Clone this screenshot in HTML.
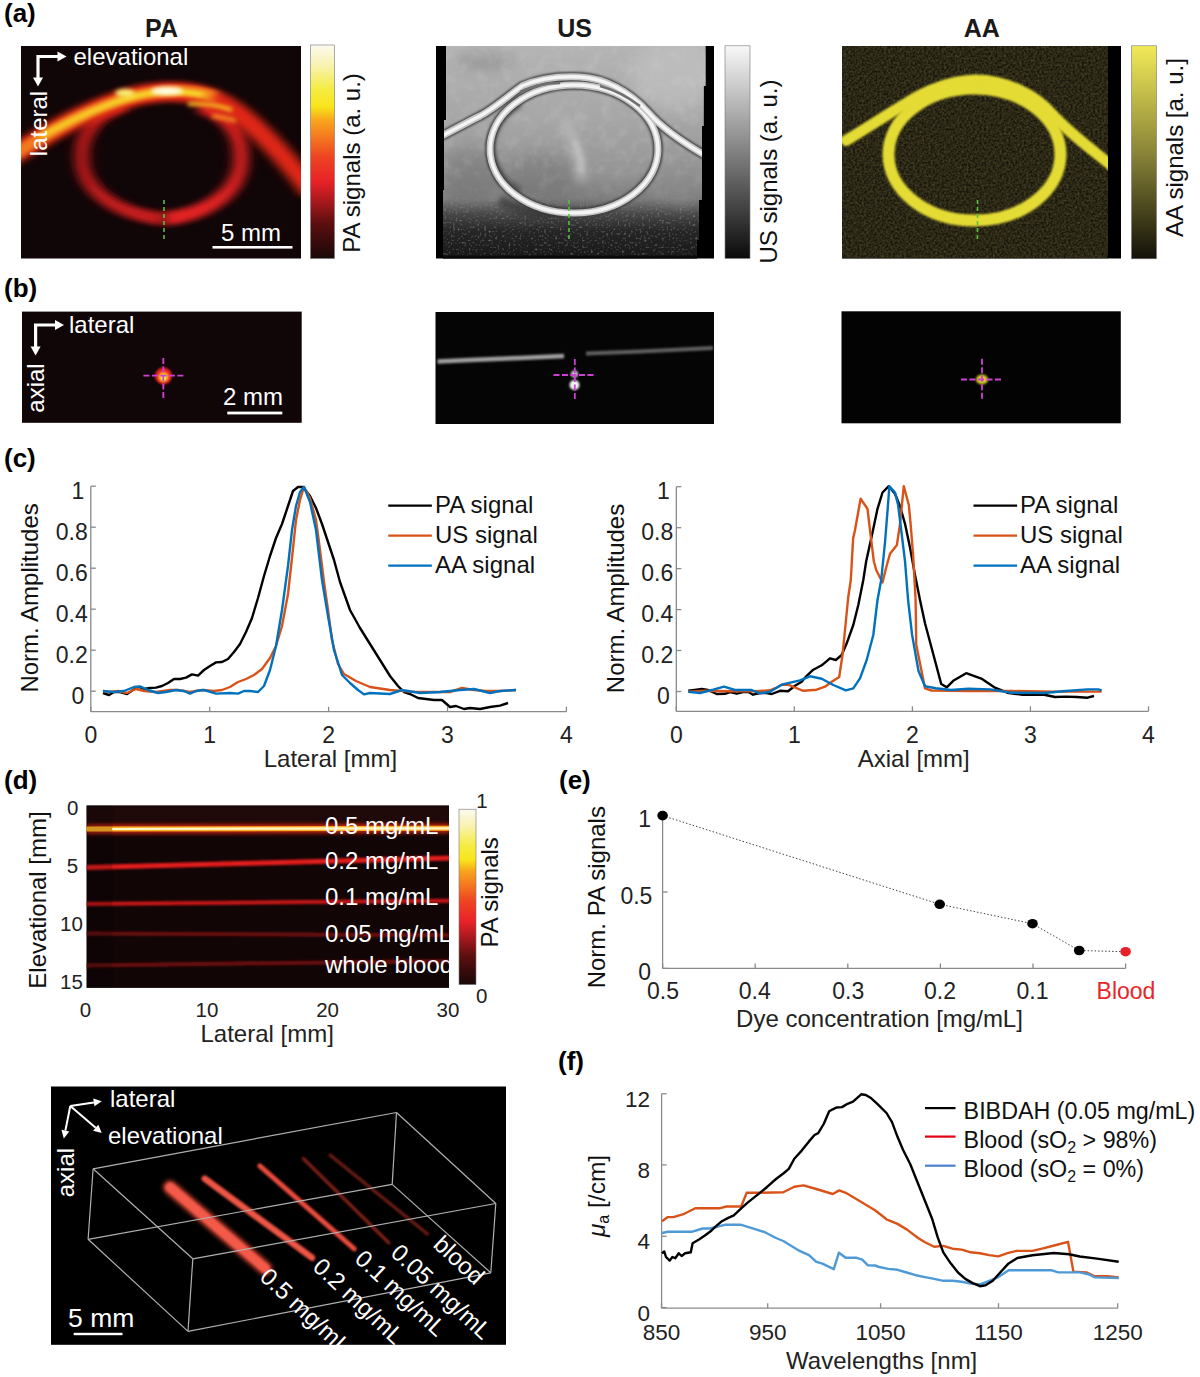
<!DOCTYPE html>
<html><head><meta charset="utf-8"><style>
html,body{margin:0;padding:0;background:#fff;overflow:hidden;}
svg{display:block;}
text{font-family:"Liberation Sans",sans-serif;}
</style></head><body>
<svg width="1200" height="1377" viewBox="0 0 1200 1377">

<defs>
 <filter id="b2" filterUnits="userSpaceOnUse" x="0" y="0" width="1200" height="1377"><feGaussianBlur stdDeviation="2"/></filter>
 <filter id="b3" filterUnits="userSpaceOnUse" x="0" y="0" width="1200" height="1377"><feGaussianBlur stdDeviation="3"/></filter>
 <filter id="b4" filterUnits="userSpaceOnUse" x="0" y="0" width="1200" height="1377"><feGaussianBlur stdDeviation="4"/></filter>
 <filter id="b1" filterUnits="userSpaceOnUse" x="0" y="0" width="1200" height="1377"><feGaussianBlur stdDeviation="1"/></filter>
 <filter id="b6" filterUnits="userSpaceOnUse" x="0" y="0" width="1200" height="1377"><feGaussianBlur stdDeviation="6"/></filter>
 <filter id="b8" filterUnits="userSpaceOnUse" x="0" y="0" width="1200" height="1377"><feGaussianBlur stdDeviation="9"/></filter>
 <filter id="ax" filterUnits="userSpaceOnUse" x="0" y="0" width="1200" height="1377"><feGaussianBlur stdDeviation="6 2.5"/></filter>
 <filter id="ax2" filterUnits="userSpaceOnUse" x="0" y="0" width="1200" height="1377"><feGaussianBlur stdDeviation="4 1.8"/></filter>
 <filter id="b06" filterUnits="userSpaceOnUse" x="0" y="0" width="1200" height="1377"><feGaussianBlur stdDeviation="0.6"/></filter>
 <linearGradient id="hot" x1="0" y1="1" x2="0" y2="0">
  <stop offset="0" stop-color="#1a0808"/>
  <stop offset="0.16" stop-color="#5a0e0e"/>
  <stop offset="0.28" stop-color="#b01a1e"/>
  <stop offset="0.36" stop-color="#e82228"/>
  <stop offset="0.475" stop-color="#ee4422"/>
  <stop offset="0.57" stop-color="#f47a20"/>
  <stop offset="0.647" stop-color="#f8a41c"/>
  <stop offset="0.71" stop-color="#f8e41a"/>
  <stop offset="0.79" stop-color="#f5ec40"/>
  <stop offset="0.905" stop-color="#f8f2b0"/>
  <stop offset="1" stop-color="#fcfaf0"/>
 </linearGradient>
 <linearGradient id="gray" x1="0" y1="1" x2="0" y2="0">
  <stop offset="0" stop-color="#0a0a0a"/>
  <stop offset="1" stop-color="#f8f8f8"/>
 </linearGradient>
 <linearGradient id="yel" x1="0" y1="1" x2="0" y2="0">
  <stop offset="0" stop-color="#121008"/>
  <stop offset="0.5" stop-color="#8a8538"/>
  <stop offset="1" stop-color="#f2ea58"/>
 </linearGradient>
 <linearGradient id="mtg" x1="0" y1="0" x2="0" y2="1">
  <stop offset="0" stop-color="#fff"/>
  <stop offset="0.7" stop-color="#fff"/>
  <stop offset="1" stop-color="#000"/>
 </linearGradient>
 <linearGradient id="spg" x1="0" y1="0" x2="0" y2="1">
  <stop offset="0" stop-color="#000"/>
  <stop offset="0.4" stop-color="#fff"/>
  <stop offset="1" stop-color="#fff"/>
 </linearGradient>
 <linearGradient id="usbg" x1="0" y1="0" x2="0" y2="1">
  <stop offset="0" stop-color="#b4b4b4"/>
  <stop offset="0.35" stop-color="#a6a6a6"/>
  <stop offset="0.6" stop-color="#949494"/>
  <stop offset="0.72" stop-color="#7c7c7c"/>
  <stop offset="0.79" stop-color="#484848"/>
  <stop offset="0.87" stop-color="#262626"/>
  <stop offset="1" stop-color="#181818"/>
 </linearGradient>
 <filter id="noise2" x="0" y="0" width="100%" height="100%">
  <feTurbulence type="fractalNoise" baseFrequency="0.06" numOctaves="3" seed="7"/>
  <feColorMatrix type="saturate" values="0"/>
 </filter>
 <filter id="speck" x="0" y="0" width="100%" height="100%">
  <feTurbulence type="fractalNoise" baseFrequency="0.45" numOctaves="1" seed="11"/>
  <feColorMatrix type="matrix" values="0 0 0 0 0.42  0 0 0 0 0.42  0 0 0 0 0.42  1.8 0 0 0 -1.0"/>
 </filter>
 <filter id="usmottle" x="0" y="0" width="100%" height="100%">
  <feTurbulence type="fractalNoise" baseFrequency="0.08" numOctaves="3" seed="5"/>
  <feColorMatrix type="matrix" values="0 0 0 0 0.7  0 0 0 0 0.7  0 0 0 0 0.7  0.45 0 0 0 -0.2"/>
 </filter>
 <filter id="aanoise" x="0" y="0" width="100%" height="100%">
  <feTurbulence type="fractalNoise" baseFrequency="0.45" numOctaves="2" seed="9"/>
  <feColorMatrix type="matrix" values="0 0 0 0 0.24  0 0 0 0 0.22  0 0 0 0 0.07  0.7 0 0 0 -0.17"/>
 </filter>
 <filter id="noise" x="0" y="0" width="100%" height="100%">
  <feTurbulence type="fractalNoise" baseFrequency="0.9" numOctaves="2" seed="3" result="n"/>
  <feColorMatrix type="saturate" values="0"/>
 </filter>
</defs>

<text x="4" y="22" font-size="26" text-anchor="start" font-weight="bold" fill="#000" >(a)</text>
<text x="4" y="296.5" font-size="26" text-anchor="start" font-weight="bold" fill="#000" >(b)</text>
<text x="4" y="467" font-size="26" text-anchor="start" font-weight="bold" fill="#000" >(c)</text>
<text x="4" y="789" font-size="26" text-anchor="start" font-weight="bold" fill="#000" >(d)</text>
<text x="559" y="789" font-size="26" text-anchor="start" font-weight="bold" fill="#000" >(e)</text>
<text x="558" y="1070" font-size="26" text-anchor="start" font-weight="bold" fill="#000" >(f)</text>
<text x="161.5" y="37" font-size="25" text-anchor="middle" font-weight="bold" fill="#1a1a1a" >PA</text>
<text x="574.5" y="37" font-size="25" text-anchor="middle" font-weight="bold" fill="#1a1a1a" >US</text>
<text x="981.7" y="37" font-size="25" text-anchor="middle" font-weight="bold" fill="#1a1a1a" >AA</text>
<rect x="21" y="46" width="280" height="212.5" fill="#100507"/>
<clipPath id="cpa"><rect x="21" y="46" width="280" height="212.5"/></clipPath>
<g clip-path="url(#cpa)">
<path d="M 164,219 C 118,214 84,192 82,160 C 80,132 98,113 125,105" fill="none" stroke="#c41a1a" stroke-width="13" filter="url(#ax)"/>
<path d="M 164,219 C 208,214 240,192 241,160 C 242,132 226,114 200,106" fill="none" stroke="#e22020" stroke-width="14" filter="url(#ax)"/>
<path d="M 5,160 C 40,138 90,106 140,95 C 175,88 205,92 230,108 C 255,124 280,150 312,192" fill="none" stroke="#e02818" stroke-width="20" filter="url(#ax)"/>
<path d="M 5,160 C 45,135 90,106 140,95 C 170,89 195,90 215,97" fill="none" stroke="#f27a1e" stroke-width="12" filter="url(#ax2)"/>
<path d="M 40,137 C 75,118 110,101 145,94 C 165,90 185,91 205,95" fill="none" stroke="#f8d028" stroke-width="6" filter="url(#ax2)"/>
<ellipse cx="167" cy="91" rx="16" ry="4" fill="#fffbe8" filter="url(#b2)"/>
<ellipse cx="125" cy="93" rx="10" ry="4" fill="#f8f070" filter="url(#b2)"/>
<path d="M 188,104 C 205,103 218,105 232,110" fill="none" stroke="#f8c020" stroke-width="4" filter="url(#b2)"/>
<path d="M 212,116 C 220,117 228,118 236,121" fill="none" stroke="#f89020" stroke-width="4" filter="url(#b2)"/>
</g>
<line x1="164" y1="200" x2="164" y2="241" stroke="#58c040" stroke-width="1.6" stroke-dasharray="4,3"/>
<path d="M 58.5,56.5 L 38,56.5 L 38,78.5" fill="none" stroke="#fff" stroke-width="3.2"/>
<path d="M 66.5,56.5 L 57.5,51.5 L 57.5,61.5 Z" fill="#fff"/>
<path d="M 38,86.5 L 33,77.5 L 43,77.5 Z" fill="#fff"/>
<text x="73.5" y="64.75" font-size="24" text-anchor="start" font-weight="normal" fill="#fff" >elevational</text>
<text transform="translate(46.5,123.5) rotate(-90)" font-size="24" text-anchor="middle" font-weight="normal" fill="#fff">lateral</text>
<text x="251" y="241" font-size="24" text-anchor="middle" font-weight="normal" fill="#fff" >5 mm</text>
<rect x="212.5" y="246" width="80" height="2.6" fill="#fff"/>
<rect x="310.5" y="45" width="24" height="213.5" fill="url(#hot)" stroke="#777" stroke-width="0.6"/>
<text transform="translate(359.5,163) rotate(-90)" font-size="24" text-anchor="middle" font-weight="normal" fill="#111">PA signals (a. u.)</text>
<rect x="436" y="46" width="278" height="212.5" fill="#000"/>
<clipPath id="cus"><path d="M 446,46 L 705.6,46 L 705.6,86 L 703.8,86 L 703.8,126 L 702,126 L 702,200 L 699,200 L 699,240 L 697,240 L 697,258.5 L 443,258.5 L 443,190 L 444,190 L 444,120 L 446,120 Z"/></clipPath>
<g clip-path="url(#cus)">
<rect x="436" y="46" width="278" height="212.5" fill="url(#usbg)"/>
<ellipse cx="675" cy="75" rx="45" ry="35" fill="#c4c4c4" opacity="0.6" filter="url(#b8)"/>
<ellipse cx="485" cy="62" rx="30" ry="10" fill="#8a8a8a" opacity="0.5" filter="url(#b6)"/>
<ellipse cx="470" cy="175" rx="30" ry="25" fill="#6e6e6e" opacity="0.5" filter="url(#b8)"/>
<ellipse cx="540" cy="178" rx="38" ry="22" fill="#6a6a6a" opacity="0.45" filter="url(#b8)"/>
<ellipse cx="680" cy="185" rx="25" ry="20" fill="#8a8a8a" opacity="0.5" filter="url(#b8)"/>
<path d="M 564,118 C 572,135 580,155 582,182" fill="none" stroke="#c4c4c4" stroke-width="12" opacity="0.5" filter="url(#b4)"/>
<path d="M 574,140 C 578,150 582,160 582,172" fill="none" stroke="#d0d0d0" stroke-width="6" opacity="0.5" filter="url(#b2)"/>
<mask id="mtm"><rect x="436" y="46" width="278" height="170" fill="url(#mtg)"/></mask>
<rect x="436" y="46" width="278" height="170" fill="#000" filter="url(#usmottle)" mask="url(#mtm)"/>
<mask id="spm"><rect x="436" y="185" width="278" height="75" fill="url(#spg)"/></mask>
<rect x="436" y="185" width="278" height="75" fill="#000" filter="url(#speck)" mask="url(#spm)"/>
<rect x="436" y="255.5" width="278" height="4" fill="#0a0a0a"/>
<path d="M 520,104 A 76,56 0 0 0 520,191" fill="none" stroke="#4a4a4a" stroke-width="7" opacity="0.7" filter="url(#b2)"/>
<path d="M 640,185 A 76,56 0 0 0 648,120" fill="none" stroke="#5a5a5a" stroke-width="5" opacity="0.5" filter="url(#b2)"/>
<path d="M 500,200 A 84,64 0 0 0 560,213" fill="none" stroke="#303030" stroke-width="10" opacity="0.6" filter="url(#b2)"/>
<ellipse cx="574" cy="149" rx="84" ry="64" fill="none" stroke="#3a3a3a" stroke-width="9.5" filter="url(#b1)"/>
<path d="M 438,138 C 455,129 468,122 480,116 C 495,108 508,96 522,86 C 540,78 560,76 580,77 C 605,78 630,92 648,112 C 660,126 680,141 708,157" fill="none" stroke="#3a3a3a" stroke-width="9.5" filter="url(#b1)"/>
<ellipse cx="574" cy="149" rx="84" ry="64" fill="none" stroke="#c4c4c4" stroke-width="7" filter="url(#b06)"/>
<ellipse cx="574" cy="149" rx="84" ry="64" fill="none" stroke="#f4f4f4" stroke-width="3.5" filter="url(#b06)"/>
<path d="M 438,138 C 455,129 468,122 480,116 C 495,108 508,96 522,86 C 540,78 560,76 580,77 C 605,78 630,92 648,112 C 660,126 680,141 708,157" fill="none" stroke="#c4c4c4" stroke-width="7" filter="url(#b06)"/>
<path d="M 438,138 C 455,129 468,122 480,116 C 495,108 508,96 522,86 C 540,78 560,76 580,77 C 605,78 630,92 648,112 C 660,126 680,141 708,157" fill="none" stroke="#f4f4f4" stroke-width="3.5" filter="url(#b06)"/>
<path d="M 520,92 C 535,85 550,83 560,83" fill="none" stroke="#707070" stroke-width="2.5" filter="url(#b06)"/>
<path d="M 600,86 C 615,90 628,97 640,106" fill="none" stroke="#707070" stroke-width="2.5" filter="url(#b06)"/>
</g>
<line x1="569" y1="200" x2="569" y2="241" stroke="#58c040" stroke-width="1.6" stroke-dasharray="4,3"/>
<rect x="725" y="45.8" width="25" height="212.6" fill="url(#gray)" stroke="#777" stroke-width="0.6"/>
<text transform="translate(776.5,171.5) rotate(-90)" font-size="24" text-anchor="middle" font-weight="normal" fill="#111">US signals (a. u.)</text>
<rect x="842" y="46" width="279" height="212.5" fill="#000"/>
<clipPath id="caa"><rect x="842" y="46" width="266" height="212.5"/></clipPath>
<g clip-path="url(#caa)">
<rect x="842" y="46" width="266" height="212.5" fill="#17140a"/>
<rect x="842" y="46" width="266" height="212.5" fill="#000" filter="url(#aanoise)"/>
<ellipse cx="974.5" cy="154.5" rx="86" ry="66" fill="none" stroke="#e4dc34" stroke-width="12" filter="url(#b1)"/>
<path d="M 846,140.5 C 862,131 885,116 905,104 C 925,91 950,81 975,80 C 1005,80 1035,94 1052,114 C 1068,132 1090,148 1112,166" fill="none" stroke="#e4dc34" stroke-width="11" stroke-linecap="round" filter="url(#b1)"/>
</g>
<line x1="977.5" y1="200" x2="977.5" y2="241" stroke="#58c040" stroke-width="1.6" stroke-dasharray="4,3"/>
<rect x="1131.5" y="45.8" width="25" height="213" fill="url(#yel)" stroke="#777" stroke-width="0.6"/>
<text transform="translate(1183,147.5) rotate(-90)" font-size="24" text-anchor="middle" font-weight="normal" fill="#111">AA signals [a. u.]</text>
<rect x="22" y="311.6" width="279.7" height="111.2" fill="#100507"/>
<circle cx="163.5" cy="376" r="8.5" fill="#e82020" filter="url(#b1)"/>
<circle cx="163.5" cy="377" r="5" fill="#f8c020" filter="url(#b1)"/>
<circle cx="163.5" cy="378" r="2.5" fill="#f8f040" filter="url(#b06)"/>
<line x1="143.4" y1="375.7" x2="183.4" y2="375.7" stroke="#d040d8" stroke-width="1.8" stroke-dasharray="6,2.5"/>
<line x1="163.3" y1="358" x2="163.3" y2="398" stroke="#d040d8" stroke-width="1.8" stroke-dasharray="6,2.5"/>
<path d="M 56,325 L 35.6,325 L 35.6,347.5" fill="none" stroke="#fff" stroke-width="3.2"/>
<path d="M 64,325 L 55,320 L 55,330 Z" fill="#fff"/>
<path d="M 35.6,355.5 L 30.6,346.5 L 40.6,346.5 Z" fill="#fff"/>
<text x="69" y="333" font-size="24" text-anchor="start" font-weight="normal" fill="#fff" >lateral</text>
<text transform="translate(44.4,388) rotate(-90)" font-size="24" text-anchor="middle" font-weight="normal" fill="#fff">axial</text>
<text x="253" y="404.6" font-size="24" text-anchor="middle" font-weight="normal" fill="#fff" >2 mm</text>
<rect x="227.3" y="411.6" width="55" height="2.8" fill="#fff"/>
<rect x="435.5" y="312" width="278.5" height="112" fill="#050505"/>
<path d="M 437.5,361.5 L 470,360 L 520,358 L 564,356" fill="none" stroke="#a0a0a0" stroke-width="4.5" stroke-linecap="butt" filter="url(#b1)"/>
<path d="M 586,353.5 L 640,351.5 L 713,348" fill="none" stroke="#606060" stroke-width="4" stroke-linecap="butt" filter="url(#b1)"/>
<ellipse cx="574.5" cy="385" rx="5" ry="5" fill="#f4f4f4" filter="url(#b1)"/>
<ellipse cx="574.5" cy="374" rx="3.5" ry="3.5" fill="#d0d0d0" filter="url(#b1)"/>
<line x1="553.5" y1="375" x2="595" y2="375" stroke="#d040d8" stroke-width="1.8" stroke-dasharray="6,2.5"/>
<line x1="574.8" y1="359" x2="574.8" y2="399.5" stroke="#d040d8" stroke-width="1.8" stroke-dasharray="6,2.5"/>
<rect x="841.5" y="311.3" width="279.3" height="112" fill="#030303"/>
<ellipse cx="982" cy="379.5" rx="6" ry="5" fill="#d8c820" filter="url(#b1)"/>
<line x1="961" y1="379.5" x2="1002" y2="379.5" stroke="#d040d8" stroke-width="1.8" stroke-dasharray="6,2.5"/>
<line x1="982" y1="358.75" x2="982" y2="400" stroke="#d040d8" stroke-width="1.8" stroke-dasharray="6,2.5"/>
<line x1="90.8" y1="486.2" x2="90.8" y2="711.7" stroke="#8a8a8a" stroke-width="1.3"/>
<line x1="90.8" y1="711.7" x2="566.4" y2="711.7" stroke="#8a8a8a" stroke-width="1.3"/>
<line x1="90.8" y1="691.2" x2="95.8" y2="691.2" stroke="#8a8a8a" stroke-width="1.3"/>
<text x="84.3" y="703.5" font-size="23" text-anchor="end" font-weight="normal" fill="#222" >0</text>
<line x1="90.8" y1="650.2" x2="95.8" y2="650.2" stroke="#8a8a8a" stroke-width="1.3"/>
<text x="87.8" y="662.5" font-size="23" text-anchor="end" font-weight="normal" fill="#222" >0.2</text>
<line x1="90.8" y1="609.2" x2="95.8" y2="609.2" stroke="#8a8a8a" stroke-width="1.3"/>
<text x="87.8" y="621.5" font-size="23" text-anchor="end" font-weight="normal" fill="#222" >0.4</text>
<line x1="90.8" y1="568.2" x2="95.8" y2="568.2" stroke="#8a8a8a" stroke-width="1.3"/>
<text x="87.8" y="580.5" font-size="23" text-anchor="end" font-weight="normal" fill="#222" >0.6</text>
<line x1="90.8" y1="527.2" x2="95.8" y2="527.2" stroke="#8a8a8a" stroke-width="1.3"/>
<text x="87.8" y="539.5" font-size="23" text-anchor="end" font-weight="normal" fill="#222" >0.8</text>
<line x1="90.8" y1="486.2" x2="95.8" y2="486.2" stroke="#8a8a8a" stroke-width="1.3"/>
<text x="84.3" y="498.5" font-size="23" text-anchor="end" font-weight="normal" fill="#222" >1</text>
<line x1="90.8" y1="711.7" x2="90.8" y2="706.7" stroke="#8a8a8a" stroke-width="1.3"/>
<text x="90.8" y="743.0" font-size="23" text-anchor="middle" font-weight="normal" fill="#222" >0</text>
<line x1="209.7" y1="711.7" x2="209.7" y2="706.7" stroke="#8a8a8a" stroke-width="1.3"/>
<text x="209.7" y="743.0" font-size="23" text-anchor="middle" font-weight="normal" fill="#222" >1</text>
<line x1="328.6" y1="711.7" x2="328.6" y2="706.7" stroke="#8a8a8a" stroke-width="1.3"/>
<text x="328.6" y="743.0" font-size="23" text-anchor="middle" font-weight="normal" fill="#222" >2</text>
<line x1="447.5" y1="711.7" x2="447.5" y2="706.7" stroke="#8a8a8a" stroke-width="1.3"/>
<text x="447.5" y="743.0" font-size="23" text-anchor="middle" font-weight="normal" fill="#222" >3</text>
<line x1="566.4" y1="711.7" x2="566.4" y2="706.7" stroke="#8a8a8a" stroke-width="1.3"/>
<text x="566.4" y="743.0" font-size="23" text-anchor="middle" font-weight="normal" fill="#222" >4</text>
<text transform="translate(38,597.9) rotate(-90)" font-size="24" text-anchor="middle" font-weight="normal" fill="#111">Norm. Amplitudes</text>
<text x="330.4" y="766.6" font-size="24" text-anchor="middle" font-weight="normal" fill="#222" >Lateral [mm]</text>
<line x1="676.3" y1="486.7" x2="676.3" y2="711.3" stroke="#8a8a8a" stroke-width="1.3"/>
<line x1="676.3" y1="711.3" x2="1148.5" y2="711.3" stroke="#8a8a8a" stroke-width="1.3"/>
<line x1="676.3" y1="691.5" x2="681.3" y2="691.5" stroke="#8a8a8a" stroke-width="1.3"/>
<text x="669.8" y="703.8" font-size="23" text-anchor="end" font-weight="normal" fill="#222" >0</text>
<line x1="676.3" y1="650.5" x2="681.3" y2="650.5" stroke="#8a8a8a" stroke-width="1.3"/>
<text x="673.3" y="662.8" font-size="23" text-anchor="end" font-weight="normal" fill="#222" >0.2</text>
<line x1="676.3" y1="609.6" x2="681.3" y2="609.6" stroke="#8a8a8a" stroke-width="1.3"/>
<text x="673.3" y="621.9" font-size="23" text-anchor="end" font-weight="normal" fill="#222" >0.4</text>
<line x1="676.3" y1="568.6" x2="681.3" y2="568.6" stroke="#8a8a8a" stroke-width="1.3"/>
<text x="673.3" y="580.9" font-size="23" text-anchor="end" font-weight="normal" fill="#222" >0.6</text>
<line x1="676.3" y1="527.7" x2="681.3" y2="527.7" stroke="#8a8a8a" stroke-width="1.3"/>
<text x="673.3" y="540.0" font-size="23" text-anchor="end" font-weight="normal" fill="#222" >0.8</text>
<line x1="676.3" y1="486.7" x2="681.3" y2="486.7" stroke="#8a8a8a" stroke-width="1.3"/>
<text x="669.8" y="499.0" font-size="23" text-anchor="end" font-weight="normal" fill="#222" >1</text>
<line x1="676.3" y1="711.3" x2="676.3" y2="706.3" stroke="#8a8a8a" stroke-width="1.3"/>
<text x="676.3" y="742.6" font-size="23" text-anchor="middle" font-weight="normal" fill="#222" >0</text>
<line x1="794.3" y1="711.3" x2="794.3" y2="706.3" stroke="#8a8a8a" stroke-width="1.3"/>
<text x="794.3" y="742.6" font-size="23" text-anchor="middle" font-weight="normal" fill="#222" >1</text>
<line x1="912.4" y1="711.3" x2="912.4" y2="706.3" stroke="#8a8a8a" stroke-width="1.3"/>
<text x="912.4" y="742.6" font-size="23" text-anchor="middle" font-weight="normal" fill="#222" >2</text>
<line x1="1030.4" y1="711.3" x2="1030.4" y2="706.3" stroke="#8a8a8a" stroke-width="1.3"/>
<text x="1030.4" y="742.6" font-size="23" text-anchor="middle" font-weight="normal" fill="#222" >3</text>
<line x1="1148.5" y1="711.3" x2="1148.5" y2="706.3" stroke="#8a8a8a" stroke-width="1.3"/>
<text x="1148.5" y="742.6" font-size="23" text-anchor="middle" font-weight="normal" fill="#222" >4</text>
<text transform="translate(624,598.5) rotate(-90)" font-size="24" text-anchor="middle" font-weight="normal" fill="#111">Norm. Amplitudes</text>
<text x="913.7" y="766.6" font-size="24" text-anchor="middle" font-weight="normal" fill="#222" >Axial [mm]</text>
<polyline points="103.0,693.0 109.0,695.0 114.0,692.0 120.0,692.0 127.0,694.0 133.0,690.0 139.0,687.0 144.0,689.0 150.0,688.0 156.0,687.6 162.0,686.0 168.0,683.0 174.0,679.0 180.0,679.0 186.0,677.6 192.0,674.4 198.0,675.6 204.0,670.0 210.0,666.0 216.0,662.4 222.0,662.0 228.0,659.0 234.0,652.0 240.0,644.0 246.0,632.0 252.0,618.0 258.0,598.0 264.0,576.0 270.0,556.0 276.0,538.0 282.0,524.0 288.0,506.0 293.0,491.0 298.0,487.0 303.0,487.0 310.0,496.0 316.0,508.0 322.0,524.0 328.0,542.0 334.0,560.0 340.0,582.0 350.0,610.0 360.0,628.0 370.0,644.0 380.0,660.0 390.0,676.0 398.0,686.0 404.0,692.0 410.0,694.0 418.0,698.0 426.0,699.0 434.0,700.0 442.0,700.0 450.0,707.0 456.0,706.0 464.0,709.0 470.0,708.0 480.0,709.0 490.0,707.0 500.0,705.6 508.0,703.0" fill="none" stroke="#000" stroke-width="2.4" stroke-linejoin="round"/>
<polyline points="103.0,691.0 110.0,692.0 118.0,691.0 127.0,693.0 136.0,689.0 144.0,691.0 156.0,692.0 170.0,690.0 178.0,690.0 190.0,692.0 202.0,690.0 214.0,691.0 222.0,690.0 230.0,687.0 238.0,682.0 246.0,679.0 254.0,675.0 262.0,669.0 270.0,658.0 276.0,646.0 282.0,626.0 288.0,594.0 292.0,558.0 296.0,520.0 300.0,500.0 304.0,487.0 310.0,498.0 316.0,520.0 320.0,550.0 324.0,582.0 328.0,610.0 332.0,640.0 338.0,664.0 344.0,674.0 356.0,681.0 370.0,687.0 390.0,690.0 410.0,691.6 430.0,692.0 450.0,692.0 462.0,688.0 474.0,690.0 486.0,691.0 500.0,691.0 516.0,690.0" fill="none" stroke="#d95319" stroke-width="2.4" stroke-linejoin="round"/>
<polyline points="103.0,691.0 114.0,692.0 124.0,691.0 134.0,687.0 140.0,686.4 148.0,690.0 158.0,693.0 166.0,692.0 176.0,690.0 184.0,691.0 190.0,693.6 196.0,691.0 204.0,690.0 216.0,693.6 230.0,693.0 238.0,693.6 244.0,691.0 250.0,691.0 258.0,692.0 264.0,686.0 270.0,670.0 276.0,646.0 282.0,610.0 288.0,566.0 292.0,530.0 296.0,506.0 300.0,492.0 304.0,487.0 310.0,502.0 316.0,530.0 322.0,580.0 328.0,616.0 334.0,650.0 342.0,675.0 350.0,683.0 358.0,690.0 364.0,694.4 370.0,693.0 390.0,694.0 402.0,690.0 420.0,693.0 440.0,692.0 460.0,690.0 474.0,689.0 490.0,693.0 500.0,691.0 516.0,690.0" fill="none" stroke="#0072bd" stroke-width="2.4" stroke-linejoin="round"/>
<polyline points="688.3,690.8 696.7,689.7 701.7,689.0 708.0,690.0 716.7,694.0 725.0,693.8 730.0,692.0 736.7,693.7 743.0,692.0 748.0,691.7 753.0,694.7 760.0,693.0 766.7,693.0 771.7,694.0 780.0,690.8 788.0,691.3 795.0,685.8 801.7,681.7 806.7,675.8 813.3,669.7 821.7,665.3 830.0,658.3 835.8,660.0 841.7,655.0 846.7,643.3 853.3,625.0 858.3,605.0 863.3,580.0 866.2,561.2 872.5,532.5 877.5,508.8 882.5,492.5 888.8,486.2 895.0,493.8 900.0,506.2 905.0,523.8 910.0,547.5 915.0,575.0 920.0,600.0 925.0,623.3 933.7,655.8 941.2,684.0 946.7,687.3 953.2,680.8 966.2,673.2 981.3,678.6 994.3,687.3 1007.3,692.7 1022.5,694.8 1044.2,694.8 1055.0,697.0 1065.8,696.6 1076.7,697.0 1087.5,697.7 1094.0,696.0" fill="none" stroke="#000" stroke-width="2.4" stroke-linejoin="round"/>
<polyline points="688.3,691.7 705.0,690.8 730.0,691.3 755.0,691.3 770.0,690.3 776.7,687.5 781.7,684.7 788.3,684.7 795.0,687.5 803.3,690.8 816.7,689.7 825.0,686.7 831.7,681.7 839.2,677.0 842.5,655.0 845.0,630.0 848.3,596.7 850.8,580.0 853.1,538.8 855.0,530.0 860.6,498.8 867.5,508.8 870.0,530.0 873.8,561.2 876.2,570.0 882.5,582.5 886.2,567.5 890.0,553.8 896.9,545.0 900.0,523.8 903.8,486.2 908.8,505.0 910.6,523.8 913.1,555.0 915.6,600.0 916.3,645.0 925.0,688.3 931.5,690.5 968.3,691.0 1011.7,691.0 1055.0,691.6 1101.6,691.6" fill="none" stroke="#d95319" stroke-width="2.4" stroke-linejoin="round"/>
<polyline points="688.3,691.7 700.0,693.0 713.3,689.7 724.0,686.7 735.0,690.0 751.7,690.0 760.0,693.3 770.0,691.7 781.7,684.7 800.0,680.3 810.0,676.3 821.7,678.7 833.3,685.0 845.8,690.3 853.3,688.3 860.0,678.3 866.7,660.0 873.3,635.0 877.5,600.0 881.2,580.0 885.0,542.5 887.5,511.2 889.4,486.2 895.0,492.5 898.1,505.0 901.2,530.0 905.0,561.2 908.1,600.0 912.0,634.2 918.5,671.0 925.0,686.2 935.8,688.3 951.0,690.0 968.3,688.8 990.0,689.4 1011.7,692.7 1044.2,693.0 1065.8,691.0 1087.5,689.4 1098.4,689.4 1101.6,690.5" fill="none" stroke="#0072bd" stroke-width="2.4" stroke-linejoin="round"/>
<line x1="388.25" y1="505.7" x2="431.85" y2="505.7" stroke="#000" stroke-width="2.2"/>
<text x="435.0" y="513.4" font-size="24" text-anchor="start" font-weight="normal" fill="#111" >PA signal</text>
<line x1="388.25" y1="535.7" x2="431.85" y2="535.7" stroke="#d95319" stroke-width="2.2"/>
<text x="435.0" y="543.4000000000001" font-size="24" text-anchor="start" font-weight="normal" fill="#111" >US signal</text>
<line x1="388.25" y1="565.7" x2="431.85" y2="565.7" stroke="#0072bd" stroke-width="2.2"/>
<text x="435.0" y="573.4000000000001" font-size="24" text-anchor="start" font-weight="normal" fill="#111" >AA signal</text>
<line x1="973.5" y1="505.7" x2="1017.1" y2="505.7" stroke="#000" stroke-width="2.2"/>
<text x="1020.0" y="513.4" font-size="24" text-anchor="start" font-weight="normal" fill="#111" >PA signal</text>
<line x1="973.5" y1="535.7" x2="1017.1" y2="535.7" stroke="#d95319" stroke-width="2.2"/>
<text x="1020.0" y="543.4000000000001" font-size="24" text-anchor="start" font-weight="normal" fill="#111" >US signal</text>
<line x1="973.5" y1="565.7" x2="1017.1" y2="565.7" stroke="#0072bd" stroke-width="2.2"/>
<text x="1020.0" y="573.4000000000001" font-size="24" text-anchor="start" font-weight="normal" fill="#111" >AA signal</text>
<rect x="86.5" y="805.4" width="362.5" height="182.5" fill="#110506"/>
<clipPath id="cd"><rect x="86.5" y="805.4" width="362.5" height="182.5"/></clipPath>
<g clip-path="url(#cd)">
<rect x="86" y="806" width="364" height="16" fill="#2a0808" opacity="0.6" filter="url(#b3)"/>
<line x1="86" y1="829" x2="450" y2="828.3" stroke="#d02814" stroke-width="9" opacity="1" filter="url(#b2)"/>
<line x1="86" y1="829" x2="450" y2="828.3" stroke="#f8b020" stroke-width="5" opacity="1" filter="url(#b06)"/>
<line x1="112" y1="829" x2="450" y2="828.3" stroke="#fff6c8" stroke-width="2.2" filter="url(#b06)"/>
<line x1="86" y1="867.5" x2="450" y2="858" stroke="#e41e1e" stroke-width="5" opacity="1" filter="url(#b1)"/>
<line x1="86" y1="904" x2="450" y2="900.8" stroke="#c81818" stroke-width="4" opacity="1" filter="url(#b1)"/>
<line x1="86" y1="933.5" x2="450" y2="935.2" stroke="#6a1010" stroke-width="4" opacity="1" filter="url(#b1)"/>
<line x1="86" y1="965.4" x2="450" y2="961" stroke="#6a1010" stroke-width="4" opacity="1" filter="url(#b1)"/>
<rect x="86.5" y="805.4" width="26" height="182.5" fill="#000" opacity="0.15"/>
</g>
<text x="325" y="834" font-size="24" text-anchor="start" font-weight="normal" fill="#fff" >0.5 mg/mL</text>
<text x="325" y="868.5" font-size="24" text-anchor="start" font-weight="normal" fill="#fff" >0.2 mg/mL</text>
<text x="325" y="905" font-size="24" text-anchor="start" font-weight="normal" fill="#fff" >0.1 mg/mL</text>
<text x="325" y="941.5" font-size="24" text-anchor="start" font-weight="normal" fill="#fff" >0.05 mg/mL</text>
<text x="325" y="972.7" font-size="24" text-anchor="start" font-weight="normal" fill="#fff" >whole blood</text>
<text x="72.75" y="815.1" font-size="20.5" text-anchor="middle" font-weight="normal" fill="#222" >0</text>
<text x="72.5" y="873.2" font-size="20.5" text-anchor="middle" font-weight="normal" fill="#222" >5</text>
<text x="71.4" y="931.3" font-size="20.5" text-anchor="middle" font-weight="normal" fill="#222" >10</text>
<text x="71.4" y="989.4" font-size="20.5" text-anchor="middle" font-weight="normal" fill="#222" >15</text>
<text x="85.5" y="1016.5" font-size="20.5" text-anchor="middle" font-weight="normal" fill="#222" >0</text>
<text x="206.9" y="1016.5" font-size="20.5" text-anchor="middle" font-weight="normal" fill="#222" >10</text>
<text x="327.6" y="1016.5" font-size="20.5" text-anchor="middle" font-weight="normal" fill="#222" >20</text>
<text x="448" y="1016.5" font-size="20.5" text-anchor="middle" font-weight="normal" fill="#222" >30</text>
<text transform="translate(46,900) rotate(-90)" font-size="24" text-anchor="middle" font-weight="normal" fill="#111">Elevational [mm]</text>
<text x="267.2" y="1041.7" font-size="24" text-anchor="middle" font-weight="normal" fill="#222" >Lateral [mm]</text>
<rect x="459" y="809.2" width="17" height="175.4" fill="url(#hot)" stroke="#777" stroke-width="0.6"/>
<text x="482" y="807.5" font-size="20.5" text-anchor="middle" font-weight="normal" fill="#222" >1</text>
<text x="481.8" y="1002.9" font-size="20.5" text-anchor="middle" font-weight="normal" fill="#222" >0</text>
<text transform="translate(497.5,892.3) rotate(-90)" font-size="24" text-anchor="middle" font-weight="normal" fill="#111">PA signals</text>
<rect x="51" y="1086.5" width="455" height="258.3" fill="#000"/>
<line x1="170" y1="1187.3" x2="265.3" y2="1268.5" stroke="#e04838" stroke-width="14" stroke-linecap="round" opacity="0.85" filter="url(#b2)"/>
<line x1="170" y1="1187.3" x2="265.3" y2="1268.5" stroke="#f45a4a" stroke-width="9" stroke-linecap="round" opacity="1" filter="url(#b1)"/>
<line x1="204.7" y1="1178.6" x2="312" y2="1257.7" stroke="#ee5444" stroke-width="6.5" stroke-linecap="round" opacity="1" filter="url(#b1)"/>
<line x1="259.8" y1="1165.8" x2="354.3" y2="1248.8" stroke="#ea4c3c" stroke-width="5" stroke-linecap="round" opacity="1" filter="url(#b1)"/>
<line x1="303.3" y1="1158.5" x2="389" y2="1243" stroke="#90281c" stroke-width="3.2" stroke-linecap="round" opacity="0.9" filter="url(#b1)"/>
<line x1="330" y1="1155" x2="427.5" y2="1234" stroke="#7a2418" stroke-width="3.2" stroke-linecap="round" opacity="0.9" filter="url(#b1)"/>
<line x1="93.1" y1="1168.8" x2="396.5" y2="1112.5" stroke="#b0b0b0" stroke-width="1.2"/>
<line x1="88.1" y1="1239.3" x2="392.2" y2="1184.4" stroke="#b0b0b0" stroke-width="1.2"/>
<line x1="93.1" y1="1168.8" x2="88.1" y2="1239.3" stroke="#b0b0b0" stroke-width="1.2"/>
<line x1="396.5" y1="1112.5" x2="495.8" y2="1203.5" stroke="#b0b0b0" stroke-width="1.2"/>
<line x1="392.2" y1="1184.4" x2="490.8" y2="1272.8" stroke="#b0b0b0" stroke-width="1.2"/>
<line x1="396.5" y1="1112.5" x2="392.2" y2="1184.4" stroke="#b0b0b0" stroke-width="1.2"/>
<line x1="495.8" y1="1203.5" x2="192.8" y2="1258.8" stroke="#b0b0b0" stroke-width="1.2"/>
<line x1="490.8" y1="1272.8" x2="188" y2="1331.4" stroke="#b0b0b0" stroke-width="1.2"/>
<line x1="495.8" y1="1203.5" x2="490.8" y2="1272.8" stroke="#b0b0b0" stroke-width="1.2"/>
<line x1="192.8" y1="1258.8" x2="93.1" y2="1168.8" stroke="#b0b0b0" stroke-width="1.2"/>
<line x1="188" y1="1331.4" x2="88.1" y2="1239.3" stroke="#b0b0b0" stroke-width="1.2"/>
<line x1="192.8" y1="1258.8" x2="188" y2="1331.4" stroke="#b0b0b0" stroke-width="1.2"/>
<text transform="translate(258.5,1278.5) rotate(43)" font-size="24" fill="#fff">0.5 mg/mL</text>
<text transform="translate(311.5,1268.5) rotate(43)" font-size="24" fill="#fff">0.2 mg/mL</text>
<text transform="translate(353.5,1260.5) rotate(43)" font-size="24" fill="#fff">0.1 mg/mL</text>
<text transform="translate(389.5,1254.5) rotate(43)" font-size="24" fill="#fff">0.05 mg/mL</text>
<text transform="translate(432,1246) rotate(43)" font-size="24" fill="#fff">blood</text>
<line x1="70.3" y1="1106" x2="93.84157853655691" y2="1102.407008681225" stroke="#fff" stroke-width="2"/>
<path d="M 101.75,1101.2 L 94.44508287716941,1106.3612194129466 L 93.2380741959444,1098.4527979495035 Z" fill="#fff"/>
<line x1="70.3" y1="1106" x2="95.68003618817853" y2="1127.788902291918" stroke="#fff" stroke-width="2"/>
<path d="M 101.75,1133 L 93.07448733413752,1130.8238841978286 L 98.28558504221955,1124.7539203860074 Z" fill="#fff"/>
<line x1="70.3" y1="1106" x2="65.36892908110546" y2="1130.6553545944726" stroke="#fff" stroke-width="2"/>
<path d="M 63.8,1138.5 L 61.446606378341784,1129.8708900539198 L 69.29125178386914,1131.4398191350253 Z" fill="#fff"/>
<text x="110" y="1107" font-size="24" text-anchor="start" font-weight="normal" fill="#fff" >lateral</text>
<text x="108" y="1144" font-size="24" text-anchor="start" font-weight="normal" fill="#fff" >elevational</text>
<text transform="translate(73.6,1172.6) rotate(-90)" font-size="24" text-anchor="middle" font-weight="normal" fill="#fff">axial</text>
<text x="101.2" y="1327" font-size="26.5" text-anchor="middle" font-weight="normal" fill="#fff" >5 mm</text>
<rect x="73.7" y="1332.8" width="48.8" height="2.4" fill="#fff"/>
<line x1="662.6" y1="815.6" x2="662.6" y2="968.4" stroke="#8a8a8a" stroke-width="1.3"/>
<line x1="662.6" y1="968.4" x2="1125.6" y2="968.4" stroke="#8a8a8a" stroke-width="1.3"/>
<line x1="662.6" y1="968.4" x2="667.6" y2="968.4" stroke="#8a8a8a" stroke-width="1.3"/>
<text x="651" y="979.9" font-size="23" text-anchor="end" font-weight="normal" fill="#222" >0</text>
<line x1="662.6" y1="892.0" x2="667.6" y2="892.0" stroke="#8a8a8a" stroke-width="1.3"/>
<text x="652.4" y="904.4" font-size="23" text-anchor="end" font-weight="normal" fill="#222" >0.5</text>
<line x1="662.6" y1="815.6" x2="667.6" y2="815.6" stroke="#8a8a8a" stroke-width="1.3"/>
<text x="651" y="826.7" font-size="23" text-anchor="end" font-weight="normal" fill="#222" >1</text>
<line x1="662.6" y1="968.4" x2="662.6" y2="963.4" stroke="#8a8a8a" stroke-width="1.3"/>
<text x="663" y="998.9" font-size="23" text-anchor="middle" font-weight="normal" fill="#222" >0.5</text>
<line x1="755.2" y1="968.4" x2="755.2" y2="963.4" stroke="#8a8a8a" stroke-width="1.3"/>
<text x="754.8" y="998.9" font-size="23" text-anchor="middle" font-weight="normal" fill="#222" >0.4</text>
<line x1="847.8" y1="968.4" x2="847.8" y2="963.4" stroke="#8a8a8a" stroke-width="1.3"/>
<text x="848.2" y="998.9" font-size="23" text-anchor="middle" font-weight="normal" fill="#222" >0.3</text>
<line x1="940.4" y1="968.4" x2="940.4" y2="963.4" stroke="#8a8a8a" stroke-width="1.3"/>
<text x="940" y="998.9" font-size="23" text-anchor="middle" font-weight="normal" fill="#222" >0.2</text>
<line x1="1033.0" y1="968.4" x2="1033.0" y2="963.4" stroke="#8a8a8a" stroke-width="1.3"/>
<text x="1032.5" y="998.9" font-size="23" text-anchor="middle" font-weight="normal" fill="#222" >0.1</text>
<line x1="1125.6" y1="968.4" x2="1125.6" y2="963.4" stroke="#8a8a8a" stroke-width="1.3"/>
<text x="1126" y="999.3" font-size="23" text-anchor="middle" font-weight="normal" fill="#e8262a" >Blood</text>
<text x="879.5" y="1026.8" font-size="24" text-anchor="middle" font-weight="normal" fill="#222" >Dye concentration [mg/mL]</text>
<text transform="translate(604.7,897.2) rotate(-90)" font-size="24" text-anchor="middle" font-weight="normal" fill="#111">Norm. PA signals</text>
<polyline points="662.6,815.6 939.7,904.3 1032.5,923.7 1079.2,950.5 1125.6,951.7" fill="none" stroke="#444" stroke-width="1" stroke-dasharray="1.5,2"/>
<ellipse cx="662.6" cy="815.6" rx="5.3" ry="4.8" fill="#000"/>
<ellipse cx="939.7" cy="904.3" rx="5.3" ry="4.8" fill="#000"/>
<ellipse cx="1032.5" cy="923.7" rx="5.3" ry="4.8" fill="#000"/>
<ellipse cx="1079.2" cy="950.5" rx="5.3" ry="4.8" fill="#000"/>
<ellipse cx="1125.6" cy="951.7" rx="5.3" ry="4.8" fill="#e8202a"/>
<line x1="661.6" y1="1093.8" x2="661.6" y2="1308.2" stroke="#8a8a8a" stroke-width="1.3"/>
<line x1="661.6" y1="1308.2" x2="1117.7" y2="1308.2" stroke="#8a8a8a" stroke-width="1.3"/>
<line x1="661.6" y1="1307.6" x2="666.6" y2="1307.6" stroke="#8a8a8a" stroke-width="1.3"/>
<text x="650" y="1320.6" font-size="22.5" text-anchor="end" font-weight="normal" fill="#222" >0</text>
<line x1="661.6" y1="1236.3" x2="666.6" y2="1236.3" stroke="#8a8a8a" stroke-width="1.3"/>
<text x="650" y="1249.3" font-size="22.5" text-anchor="end" font-weight="normal" fill="#222" >4</text>
<line x1="661.6" y1="1164.9" x2="666.6" y2="1164.9" stroke="#8a8a8a" stroke-width="1.3"/>
<text x="650" y="1177.9" font-size="22.5" text-anchor="end" font-weight="normal" fill="#222" >8</text>
<line x1="661.6" y1="1093.8" x2="666.6" y2="1093.8" stroke="#8a8a8a" stroke-width="1.3"/>
<text x="650" y="1106.8" font-size="22.5" text-anchor="end" font-weight="normal" fill="#222" >12</text>
<line x1="661.5" y1="1308.2" x2="661.5" y2="1303.2" stroke="#8a8a8a" stroke-width="1.3"/>
<text x="661.5" y="1339.6" font-size="22.5" text-anchor="middle" font-weight="normal" fill="#222" >850</text>
<line x1="767.7" y1="1308.2" x2="767.7" y2="1303.2" stroke="#8a8a8a" stroke-width="1.3"/>
<text x="767.7" y="1339.6" font-size="22.5" text-anchor="middle" font-weight="normal" fill="#222" >950</text>
<line x1="880.6" y1="1308.2" x2="880.6" y2="1303.2" stroke="#8a8a8a" stroke-width="1.3"/>
<text x="880.6" y="1339.6" font-size="22.5" text-anchor="middle" font-weight="normal" fill="#222" >1050</text>
<line x1="998.5" y1="1308.2" x2="998.5" y2="1303.2" stroke="#8a8a8a" stroke-width="1.3"/>
<text x="998.5" y="1339.6" font-size="22.5" text-anchor="middle" font-weight="normal" fill="#222" >1150</text>
<line x1="1117.7" y1="1308.2" x2="1117.7" y2="1303.2" stroke="#8a8a8a" stroke-width="1.3"/>
<text x="1117.7" y="1339.6" font-size="22.5" text-anchor="middle" font-weight="normal" fill="#222" >1250</text>
<text x="881.7" y="1369.3" font-size="24" text-anchor="middle" font-weight="normal" fill="#222" >Wavelengths [nm]</text>
<text transform="translate(604.5,1196) rotate(-90)" font-size="24.5" text-anchor="middle" fill="#111"><tspan font-style="italic">μ</tspan><tspan font-size="16" dy="4">a</tspan><tspan dy="-4"> [/cm]</tspan></text>
<polyline points="662.0,1221.2 667.8,1217.1 673.3,1217.1 684.3,1213.8 695.3,1208.3 719.2,1208.3 726.5,1206.5 741.2,1206.5 746.7,1192.8 757.7,1192.8 783.3,1192.2 794.3,1186.7 803.5,1185.4 814.5,1188.5 832.8,1194.0 839.2,1190.4 845.7,1192.8 856.7,1199.2 865.8,1204.7 875.0,1210.2 877.3,1212.0 886.5,1219.3 897.5,1223.9 906.7,1229.4 917.7,1237.7 925.0,1242.2 934.2,1246.8 943.3,1245.9 952.5,1248.7 961.7,1249.6 970.8,1252.3 980.0,1253.2 989.2,1255.1 998.3,1256.4 1007.5,1253.2 1016.7,1250.9 1032.4,1250.9 1043.1,1248.3 1056.1,1245.0 1068.0,1241.8 1073.4,1271.6 1086.3,1272.4 1094.9,1276.3 1107.9,1276.3 1118.7,1277.4" fill="none" stroke="#d95319" stroke-width="2.4" stroke-linejoin="round"/>
<polyline points="662.0,1233.0 667.8,1231.8 691.7,1231.8 702.7,1228.5 710.0,1228.5 724.7,1224.8 741.2,1224.8 750.3,1227.6 765.0,1232.2 776.0,1238.0 783.3,1241.0 798.0,1250.1 809.0,1255.1 816.3,1261.9 821.8,1263.3 833.8,1269.2 838.9,1252.7 845.7,1257.8 856.7,1257.8 862.2,1259.7 867.7,1265.2 875.0,1265.5 879.2,1267.0 888.3,1268.9 897.5,1269.8 906.7,1272.5 915.8,1275.2 925.0,1277.1 934.2,1278.9 943.3,1280.8 952.5,1280.8 961.7,1281.7 970.8,1283.5 980.0,1284.4 989.2,1280.8 998.3,1277.1 1008.6,1270.3 1051.8,1270.3 1058.3,1272.4 1079.8,1272.4 1088.5,1274.2 1094.9,1277.4 1118.7,1278.0" fill="none" stroke="#4d9ad6" stroke-width="2.4" stroke-linejoin="round"/>
<polyline points="662.0,1253.3 664.2,1251.4 666.0,1257.0 669.7,1260.6 672.4,1257.0 675.2,1258.2 678.8,1253.3 681.6,1256.0 685.2,1253.3 690.8,1252.3 692.6,1243.2 699.0,1239.5 704.5,1235.8 710.0,1231.8 715.5,1226.7 721.9,1221.2 728.3,1217.9 733.8,1215.3 741.2,1208.3 748.5,1201.9 757.7,1194.6 766.8,1187.2 776.0,1179.0 783.3,1173.5 788.8,1168.9 794.3,1158.8 801.7,1150.6 809.0,1141.4 814.5,1135.0 818.2,1133.2 823.7,1124.0 829.2,1111.2 832.8,1109.3 836.5,1107.5 842.0,1107.1 847.5,1103.8 853.0,1101.6 856.7,1098.3 861.2,1094.3 865.8,1095.0 871.3,1098.3 877.3,1103.8 886.5,1113.0 892.0,1122.2 897.5,1136.8 903.0,1149.7 910.3,1164.3 917.7,1182.7 925.0,1201.0 932.3,1219.3 937.8,1237.7 943.3,1252.3 950.7,1263.3 958.0,1272.5 965.3,1278.9 972.7,1283.1 980.0,1286.2 985.5,1285.3 992.8,1280.8 1000.2,1272.5 1008.6,1263.4 1017.3,1258.0 1032.4,1255.2 1053.9,1253.0 1069.0,1254.3 1079.8,1256.5 1097.0,1258.6 1118.7,1261.7" fill="none" stroke="#000" stroke-width="2.4" stroke-linejoin="round"/>
<line x1="925" y1="1108.1" x2="955.5" y2="1108.1" stroke="#000" stroke-width="2.2"/>
<text x="963.6" y="1119.1" font-size="23.3" text-anchor="start" font-weight="normal" fill="#111" >BIBDAH (0.05 mg/mL)</text>
<line x1="925" y1="1136.6" x2="955.5" y2="1136.6" stroke="#e00010" stroke-width="2.2"/>
<text x="963.6" y="1147.6" font-size="23.3" text-anchor="start" font-weight="normal" fill="#111" >Blood (sO<tspan font-size="16" dy="5.5">2</tspan><tspan dy="-5.5"> &gt; 98%)</tspan></text>
<line x1="925" y1="1165.7" x2="955.5" y2="1165.7" stroke="#4a80cc" stroke-width="2.2"/>
<text x="963.6" y="1176.7" font-size="23.3" text-anchor="start" font-weight="normal" fill="#111" >Blood (sO<tspan font-size="16" dy="5.5">2</tspan><tspan dy="-5.5"> = 0%)</tspan></text>
</svg></body></html>
